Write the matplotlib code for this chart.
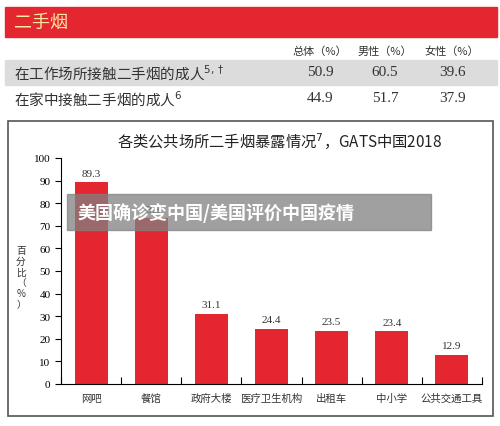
import matplotlib.pyplot as plt
from matplotlib.patches import Rectangle

plt.rcParams['font.family'] = ['Noto Sans CJK SC', 'DejaVu Sans']

# data
places = ['网吧', '餐馆', '政府大楼', '医疗卫生机构', '出租车', '中小学', '公共交通工具']
exposure = [89.3, 73.3, 31.1, 24.4, 23.5, 23.4, 12.9]
row_labels = ['在工作场所接触二手烟的成人$^{5,\\dagger}$', '在家中接触二手烟的成人$^{6}$']
col_labels = ['总体（%）', '男性（%）', '女性（%）']
table_values = [[50.9, 60.5, 39.6], [44.9, 51.7, 37.9]]
yticks = [0, 10, 20, 30, 40, 50, 60, 70, 80, 90, 100]

RED = '#e3262f'
W, H = 500, 427
fig = plt.figure(figsize=(5, 4.27), dpi=100)

def fx(x): return x / W
def fy(y): return 1 - y / H

# header band
fig.patches.append(Rectangle((fx(5), fy(38)), fx(492), 30 / H, color=RED,
                             transform=fig.transFigure))
fig.text(fx(14), fy(23), '二手烟', color='#fde9a0', fontsize=13, va='center')

# table
col_x = [320, 385, 452]
for x, lab in zip(col_x, col_labels):
    fig.text(fx(x), fy(52), lab, fontsize=8, ha='center', va='center', color='#333333')
fig.patches.append(Rectangle((fx(5), fy(86)), fx(492), 25 / H, color='#dcdcdc',
                             transform=fig.transFigure))
for i, (lab, vals) in enumerate(zip(row_labels, table_values)):
    y = 73 + i * 26
    fig.text(fx(14), fy(y), lab, fontsize=10.5, va='center', color='#333333')
    for x, v in zip(col_x, vals):
        fig.text(fx(x), fy(y), f'{v:.1f}', fontsize=11, ha='center', va='center',
                 color='#333333', family='Liberation Serif')

# chart frame
fig.patches.append(Rectangle((fx(8), fy(417)), fx(485), 295 / H, fill=False,
                             ec='#555555', lw=1.2, transform=fig.transFigure))
fig.text(fx(280), fy(141), '各类公共场所二手烟暴露情况$^7$，GATS中国2018', fontsize=11,
         ha='center', va='center', color='#222222')

ax = fig.add_axes([fx(61), fy(385), fx(421), 226 / H])
xs = range(len(places))
bars = ax.bar(xs, exposure, width=0.55, color=RED)
for x, v in zip(xs, exposure):
    ax.text(x, v + 2, f'{v}', ha='center', va='bottom', fontsize=8,
            family='Liberation Serif', color='#333333')
ax.set_xlim(-0.5, len(places) - 0.5)
ax.set_ylim(0, 100)
ax.set_yticks(yticks)
ax.set_yticklabels([str(t) for t in yticks], family='Liberation Serif', fontsize=8)
ax.set_xticks([x - 0.5 for x in range(len(places) + 1)])
ax.set_xticklabels([])
ax.tick_params(axis='x', length=5, direction='in')
ax.tick_params(axis='y', length=4)
for x, lab in zip(xs, places):
    ax.text(x, -4, lab, ha='center', va='top', fontsize=7.5, color='#333333')
for s in ['top', 'right']:
    ax.spines[s].set_visible(False)
fig.text(fx(21), fy(278), '百\n分\n比\n（\n%\n）', fontsize=7, ha='center', va='center',
         linespacing=1.1, color='#333333')

# overlay caption
fig.patches.append(Rectangle((fx(67), fy(231)), fx(364), 36 / H, color='#808080',
                             alpha=0.75, transform=fig.transFigure))
fig.text(fx(77), fy(213), '美国确诊变中国/美国评价中国疫情', fontsize=13, fontweight='bold',
         color='white', va='center')

fig.savefig('out.png', dpi=100)
